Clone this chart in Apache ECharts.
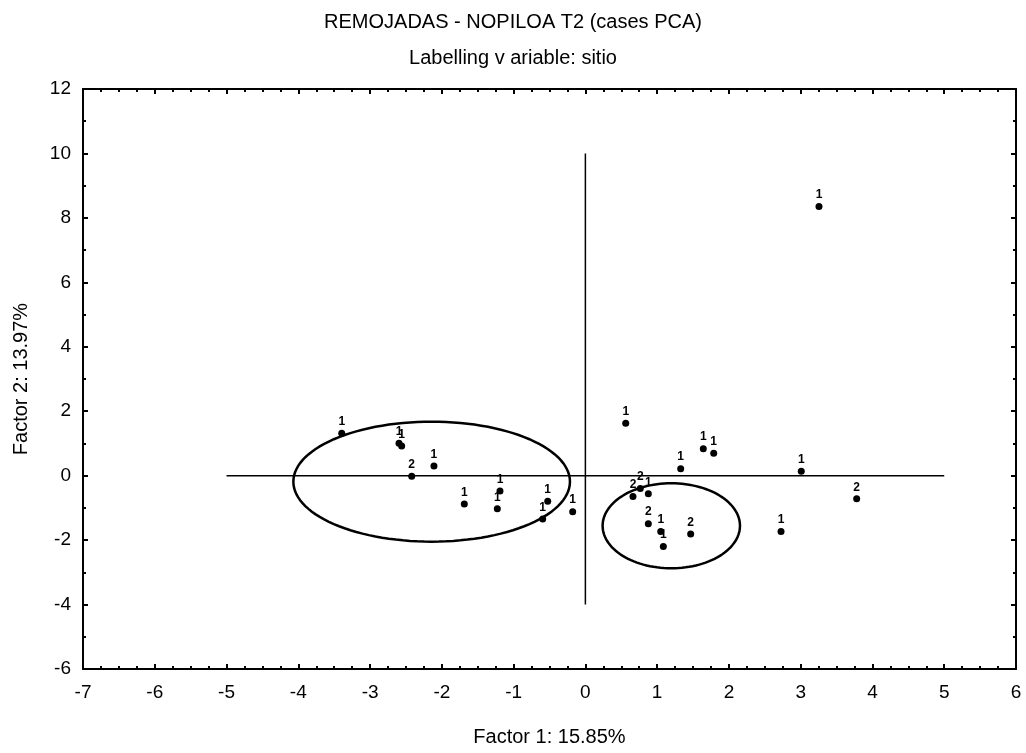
<!DOCTYPE html>
<html>

<head>
    <meta charset="UTF-8">
    <title>REMOJADAS - NOPILOA T2</title>
    <style>
        html, body { margin: 0; padding: 0; background: #fff; }
        #container { width: 1026px; height: 753px; }
    </style>
</head>

<body>
    <div id="container"></div>
    <script type="text/javascript" src="https://cdn.jsdelivr.net/npm/echarts/dist/echarts.min.js"></script>
    <script>
        // case scores
        var factor1 = [-3.395, -2.597, -2.56, -2.42, -2.11, -1.687, -1.19, -1.227, -0.525, -0.595, -0.177,
            0.562, 1.643, 1.788, 1.328, 0.765, 0.663, 0.877, 3.255, 3.008, 3.78, 2.726,
            0.877, 1.05, 1.086, 1.467];
        var factor2 = [1.316, 1.005, 0.92, -0.02, 0.30, -0.88, -0.475, -1.03, -0.795, -1.345, -1.117,
            1.626, 0.838, 0.695, 0.217, -0.40, -0.65, -0.56, 8.35, 0.135, -0.72, -1.73,
            -1.49, -1.73, -2.20, -1.81];
        var sitio = [1, 1, 1, 2, 1, 1, 1, 1, 1, 1, 1,
            1, 1, 1, 1, 2, 2, 1, 1, 1, 2, 1,
            2, 1, 1, 2];

        // ellipses: [centre x, centre y, radius x, radius y]
        var ellipses = [
            [-2.142, -0.186, 1.927, 1.862],
            [1.197, -1.555, 0.957, 1.319]
        ];

        // cross through origin
        var vLine = [[0, -4], [0, 10]];
        var hLine = [[-5, 0], [5, 0]];

        var points = [];
        for (var i = 0; i < factor1.length; i++) {
            points.push([factor1[i], factor2[i], sitio[i]]);
        }

        var font = 'Liberation Sans, Arial, sans-serif';

        function axisBase(min, max, interval, minorSplit) {
            return {
                type: 'value',
                min: min,
                max: max,
                interval: interval,
                axisLine: { show: true, onZero: false, lineStyle: { color: '#000', width: 2 } },
                axisTick: { show: true, inside: true, length: 5, lineStyle: { color: '#000', width: 2 } },
                minorTick: { show: true, splitNumber: minorSplit, length: 3, lineStyle: { color: '#000', width: 2 } },
                splitLine: { show: false },
                axisLabel: { color: '#000', fontFamily: font, fontSize: 19 }
            };
        }

        var xBottom = axisBase(-7, 6, 1, 4);
        xBottom.position = 'bottom';
        xBottom.name = 'Factor 1: 15.85%';
        xBottom.nameLocation = 'middle';
        xBottom.nameGap = 58;
        xBottom.nameTextStyle = { color: '#000', fontFamily: font, fontSize: 20 };
        xBottom.axisLabel.margin = 14;

        var xTop = axisBase(-7, 6, 1, 4);
        xTop.position = 'top';
        xTop.axisLabel = { show: false };

        var yLeft = axisBase(-6, 12, 2, 2);
        yLeft.position = 'left';
        yLeft.name = 'Factor 2: 13.97%';
        yLeft.nameLocation = 'middle';
        yLeft.nameGap = 52;
        yLeft.nameTextStyle = { color: '#000', fontFamily: font, fontSize: 20 };
        yLeft.axisLabel.margin = 12;

        var yRight = axisBase(-6, 12, 2, 2);
        yRight.position = 'right';
        yRight.axisLabel = { show: false };

        var myChart = echarts.init(document.getElementById('container'));
        myChart.setOption({
            animation: false,
            backgroundColor: '#fff',
            title: {
                text: 'REMOJADAS - NOPILOA T2 (cases PCA)',
                subtext: 'Labelling v ariable: sitio',
                left: 'center',
                top: 7,
                itemGap: 16,
                textStyle: { color: '#000', fontFamily: font, fontSize: 20, lineHeight: 20, fontWeight: 'normal' },
                subtextStyle: { color: '#000', fontFamily: font, fontSize: 20, lineHeight: 20 }
            },
            grid: { left: 83, top: 89, right: 10, bottom: 84 },
            xAxis: [xBottom, xTop],
            yAxis: [yLeft, yRight],
            series: [
                {
                    type: 'line',
                    data: vLine,
                    symbol: 'none',
                    lineStyle: { color: '#000', width: 1.5 },
                    silent: true
                },
                {
                    type: 'line',
                    data: hLine,
                    symbol: 'none',
                    lineStyle: { color: '#000', width: 1.5 },
                    silent: true
                },
                {
                    type: 'custom',
                    data: ellipses,
                    encode: { x: 0, y: 1 },
                    renderItem: function (params, api) {
                        var c = api.coord([api.value(0), api.value(1)]);
                        var s = api.size([api.value(2), api.value(3)]);
                        var pts = [];
                        for (var k = 0; k < 120; k++) {
                            var a = k / 120 * Math.PI * 2;
                            pts.push([c[0] + s[0] * Math.cos(a), c[1] + s[1] * Math.sin(a)]);
                        }
                        return {
                            type: 'polygon',
                            shape: { points: pts },
                            style: { fill: 'none', stroke: '#000', lineWidth: 2.5 }
                        };
                    },
                    silent: true
                },
                {
                    type: 'scatter',
                    data: points,
                    symbol: 'circle',
                    symbolSize: 7,
                    itemStyle: { color: '#000', opacity: 1 },
                    label: {
                        show: true,
                        position: 'top',
                        distance: 2,
                        formatter: function (p) { return p.value[2]; },
                        color: '#000',
                        fontFamily: font,
                        fontSize: 12,
                        fontWeight: 'bold'
                    }
                }
            ]
        });
    </script>
</body>

</html>
